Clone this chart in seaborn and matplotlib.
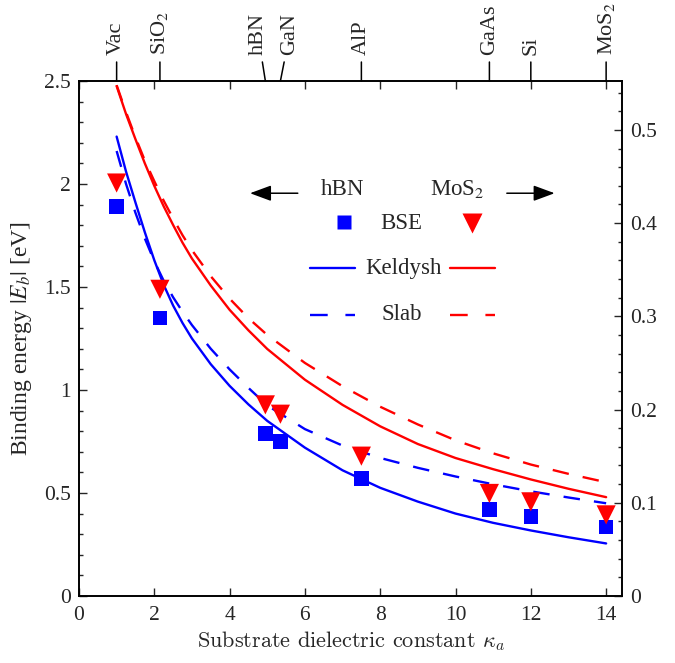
import numpy as np
import pandas as pd
import seaborn as sns
import matplotlib.pyplot as plt
from matplotlib.ticker import MultipleLocator, FuncFormatter

# substrates (top axis) and BSE results
sub_names = ['Vac', 'SiO$_2$', 'hBN', 'GaN', 'AlP', 'GaAs', 'Si', 'MoS$_2$']
kappa_sub = [1.0, 2.15, 4.95, 5.35, 7.5, 10.9, 12.0, 14.0]
bse_hbn = [1.89, 1.35, 0.79, 0.75, 0.57, 0.42, 0.387, 0.335]
bse_mos2 = [0.443, 0.329, 0.205, 0.195, 0.150, 0.110, 0.101, 0.087]

# model curves
kappa_fit = [1, 1.25, 1.5, 1.75, 2, 2.25, 2.5, 2.75, 3, 3.5, 4, 4.5, 5, 6, 7, 8, 9, 10,
             11, 12, 13, 14]
keldysh_hbn = [2.23, 2.06, 1.91, 1.765, 1.63, 1.51, 1.41, 1.325, 1.25, 1.125, 1.02, 0.93,
               0.85, 0.72, 0.61, 0.525, 0.458, 0.40, 0.355, 0.318, 0.285, 0.255]
slab_hbn = [2.16, 2.0, 1.86, 1.735, 1.625, 1.53, 1.45, 1.38, 1.315, 1.2, 1.1, 1.01,
            0.925, 0.81, 0.73, 0.67, 0.622, 0.58, 0.542, 0.508, 0.478, 0.45]
keldysh_mos2 = [0.547, 0.517, 0.49, 0.464, 0.44, 0.418, 0.398, 0.379, 0.362, 0.333, 0.307,
                0.285, 0.265, 0.232, 0.205, 0.182, 0.163, 0.148, 0.136, 0.125, 0.115, 0.106]
slab_mos2 = [0.548, 0.519, 0.492, 0.467, 0.445, 0.424, 0.405, 0.387, 0.371, 0.343, 0.319,
             0.298, 0.28, 0.25, 0.225, 0.203, 0.184, 0.167, 0.153, 0.141, 0.131, 0.122]

left_ticks = [0, 0.5, 1, 1.5, 2, 2.5]
right_ticks = [0, 0.1, 0.2, 0.3, 0.4, 0.5]
x_ticks = [0, 2, 4, 6, 8, 10, 12, 14]

curves = pd.DataFrame({'kappa': kappa_fit, 'k_hbn': keldysh_hbn, 's_hbn': slab_hbn,
                       'k_mos2': keldysh_mos2, 's_mos2': slab_mos2})

sns.set_theme(style='ticks')
plt.rcParams['font.family'] = ['Liberation Serif', 'DejaVu Serif']
plt.rcParams['mathtext.fontset'] = 'stix'

BLUE = '#0000ff'
RED = '#ff0000'
dash = (0, (7, 6))

fig = plt.figure(figsize=(6.75, 6.63), dpi=100)
ax = fig.add_axes([0.117, 0.1011, 0.8044, 0.7768])
ax2 = ax.twinx()

sns.lineplot(data=curves, x='kappa', y='k_hbn', ax=ax, color=BLUE, lw=1.7)
sns.lineplot(data=curves, x='kappa', y='s_hbn', ax=ax, color=BLUE, lw=1.7, linestyle=dash)
sns.scatterplot(x=kappa_sub, y=bse_hbn, ax=ax, marker='s', s=110, color=BLUE,
                edgecolor='none', zorder=5)

sns.lineplot(data=curves, x='kappa', y='k_mos2', ax=ax2, color=RED, lw=1.7)
sns.lineplot(data=curves, x='kappa', y='s_mos2', ax=ax2, color=RED, lw=1.7, linestyle=dash)
sns.scatterplot(x=kappa_sub, y=bse_mos2, ax=ax2, marker='v', s=190, color=RED,
                edgecolor='none', zorder=5)

fmt = FuncFormatter(lambda v, p: '%g' % round(v, 3))
ax.set_xlim(0, 14.42)
ax.set_xticks(x_ticks)
ax.set_ylim(0, 2.5)
ax.set_yticks(left_ticks)
ax.yaxis.set_major_formatter(fmt)
ax.yaxis.set_minor_locator(MultipleLocator(0.1))
ax2.set_ylim(0, 0.5525)
ax2.set_yticks(right_ticks)
ax2.yaxis.set_major_formatter(fmt)
ax2.yaxis.set_minor_locator(MultipleLocator(0.02))

ax.tick_params(axis='both', which='both', direction='in', labelsize=15.5, width=1.0)
ax.tick_params(axis='both', which='major', length=6)
ax.tick_params(axis='both', which='minor', length=3)
ax.tick_params(axis='x', top=True, pad=7)
ax.tick_params(axis='y', right=False, pad=6)
ax2.tick_params(axis='y', which='both', direction='in', labelsize=15.5, width=1.0, pad=6)
ax2.tick_params(axis='y', which='major', length=6)
ax2.tick_params(axis='y', which='minor', length=3)
for a in (ax, ax2):
    for sp in a.spines.values():
        sp.set_linewidth(1.2)
        sp.set_color('black')
ax2.set_ylabel('')
ax.set_ylabel('Binding energy $|E_b|$ [eV]', fontsize=17, labelpad=7)
ax.set_xlabel('Substrate dielectric constant $\\kappa_a$', fontsize=16,
              fontfamily='cmr10', math_fontfamily='cm', labelpad=3)

# substrate labels on top
top_dx = [0, 0, -5.4, 6.7, 0, 0, 0, 0]
for name, k, dx in zip(sub_names, kappa_sub, top_dx):
    ax.annotate(name, xy=(k, 1), xycoords=ax.get_xaxis_transform(),
                xytext=(dx, 19), textcoords='offset points', rotation=90,
                ha='center', va='bottom', fontsize=16, annotation_clip=False,
                arrowprops=dict(arrowstyle='-', lw=1.1, color='black',
                                shrinkA=3, shrinkB=0))

# legend drawn by hand
tr = ax.transAxes
arrow = dict(arrowstyle='-|>,head_length=0.65,head_width=0.24', color='black',
             lw=1.1, mutation_scale=20, shrinkA=0, shrinkB=0)
ax.annotate('', xy=(0.315, 0.782), xytext=(0.403, 0.782), xycoords='axes fraction',
            arrowprops=arrow)
ax.annotate('', xy=(0.876, 0.782), xytext=(0.788, 0.782), xycoords='axes fraction',
            arrowprops=arrow)
ax.text(0.486, 0.779, 'hBN', transform=tr, ha='center', va='baseline', fontsize=16.5)
ax.text(0.696, 0.779, 'MoS$_2$', transform=tr, ha='center', va='baseline', fontsize=16.5)

ax.plot([0.488], [0.727], 's', ms=10.5, color=BLUE, mec='none', transform=tr, clip_on=False)
ax.text(0.594, 0.724, 'BSE', transform=tr, ha='center', va='center', fontsize=16.5)
ax.plot([0.724], [0.724], 'v', ms=14, color=RED, mec='none', transform=tr, clip_on=False)

ax.plot([0.4254, 0.5083], [0.6363, 0.6363], color=BLUE, lw=1.7, transform=tr)
ax.text(0.5985, 0.6363, 'Keldysh', transform=tr, ha='center', va='center', fontsize=16.5)
ax.plot([0.6832, 0.7661], [0.6363, 0.6363], color=RED, lw=1.7, transform=tr)

ax.plot([0.4254, 0.5083], [0.5456, 0.5456], color=BLUE, lw=1.7, ls=(0, (7.5, 7.5)), transform=tr)
ax.text(0.595, 0.5456, 'Slab', transform=tr, ha='center', va='center', fontsize=16.5)
ax.plot([0.6832, 0.7661], [0.5456, 0.5456], color=RED, lw=1.7, ls=(0, (7.5, 7.5)), transform=tr)

fig.savefig('out.png', dpi=100)
